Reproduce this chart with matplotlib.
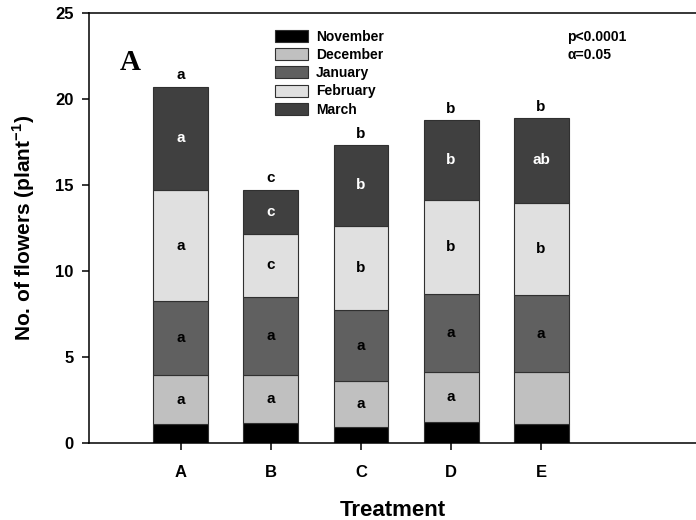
import numpy as np
import matplotlib
matplotlib.use("Agg")
import matplotlib.pyplot as plt

plt.rcParams['font.family'] = ['Liberation Sans', 'DejaVu Sans']
plt.rcParams['font.weight'] = 'bold'
plt.rcParams['mathtext.fontset'] = 'custom'
plt.rcParams['mathtext.rm'] = 'Liberation Sans:bold'
plt.rcParams['mathtext.bf'] = 'Liberation Sans:bold'

# data
treatments = ["A", "B", "C", "D", "E"]
months = ["November", "December", "January", "February", "March"]
november = [1.12, 1.18, 0.93, 1.22, 1.12]
december = [2.81, 2.79, 2.66, 2.89, 2.98]
january = [4.33, 4.52, 4.14, 4.55, 4.52]
february = [6.44, 3.68, 4.90, 5.47, 5.33]
march = [6.02, 2.56, 4.70, 4.65, 4.95]

# letters of the mean separation
dec_letters = ["a", "a", "a", "a", ""]
jan_letters = ["a", "a", "a", "a", "a"]
feb_letters = ["a", "c", "b", "b", "b"]
mar_letters = ["a", "c", "b", "b", "ab"]
total_letters = ["a", "c", "b", "b", "b"]

colors = ["#000000", "#c0c0c0", "#606060", "#e0e0e0", "#404040"]
text_colors = [None, "black", "black", "black", "white"]

fig = plt.figure(figsize=(6.96, 5.2), dpi=100)
ax = fig.add_axes([89/696, 1 - 443/520, 1 - 89/696, 430/520])

x = np.arange(1, len(treatments) + 1)
width = 0.61
series = [november, december, january, february, march]
letters = [None, dec_letters, jan_letters, feb_letters, mar_letters]

bottom = np.zeros(len(treatments))
handles = []
for i, vals in enumerate(series):
    vals = np.array(vals)
    h = ax.bar(x, vals, width, bottom=bottom, color=colors[i],
               edgecolor="#303030", linewidth=0.8, label=months[i])
    handles.append(h)
    if letters[i] is not None:
        for j in range(len(x)):
            if letters[i][j]:
                ax.text(x[j], bottom[j] + vals[j] / 2, letters[i][j],
                        ha="center", va="center", fontsize=11,
                        fontweight="bold", color=text_colors[i])
    bottom = bottom + vals

for j in range(len(x)):
    ax.text(x[j], bottom[j] + 0.25, total_letters[j], ha="center",
            va="bottom", fontsize=11, fontweight="bold")

ax.set_xlim(-0.02, 6.72)
ax.set_ylim(0, 25)
ax.set_xticks(x)
ax.set_xticklabels(treatments)
ax.set_yticks(np.arange(0, 26, 5))
ax.tick_params(axis="both", direction="out", length=5, width=1.1,
               labelsize=12)
ax.tick_params(axis="x", pad=11)
ax.tick_params(axis="y", pad=6)
for lab in ax.get_xticklabels() + ax.get_yticklabels():
    lab.set_fontweight("bold")

ax.spines["right"].set_visible(False)
for s in ["left", "bottom", "top"]:
    ax.spines[s].set_linewidth(1.1)

ax.set_xlabel("Treatment", fontsize=16, fontweight="bold", labelpad=14)
ax.set_ylabel("No. of flowers (plant$^{-1}$)", fontsize=15,
              fontweight="bold", labelpad=13)

ax.legend(handles=handles, loc="upper left", bbox_to_anchor=(0.295, 0.977),
          frameon=False, handlelength=2.4, handleheight=0.95,
          handletextpad=0.55, labelspacing=0.3, borderpad=0,
          prop={"weight": "bold", "size": 10})

ax.text(0.788, 0.945, "p<0.0001", transform=ax.transAxes, fontsize=10,
        fontweight="bold", va="center")
ax.text(0.788, 0.903, "\u03b1=0.05", transform=ax.transAxes, fontsize=10,
        fontweight="bold", va="center")

ax.text(0.05, 0.885, "A", transform=ax.transAxes, fontsize=21,
        fontweight="bold", va="center", family=["Liberation Serif"])

fig.savefig("out.png", dpi=100)
